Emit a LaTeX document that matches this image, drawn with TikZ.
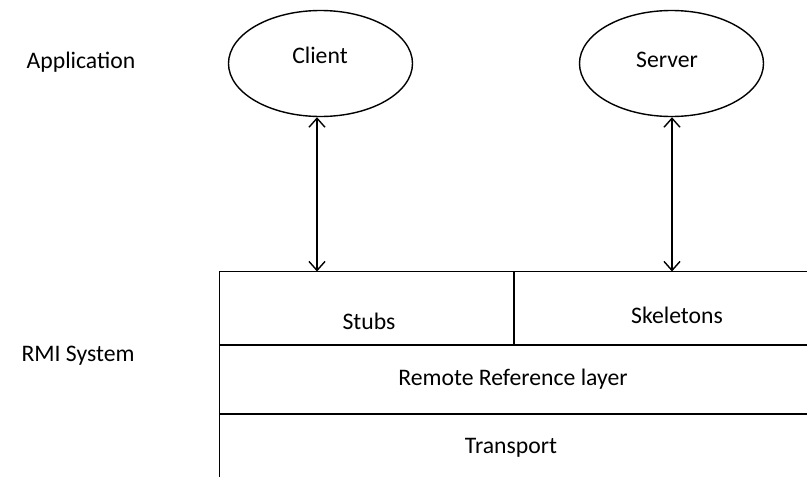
\documentclass[tikz,border=0pt]{standalone}
\usepackage{fontspec}
\setmainfont{Carlito}
\usetikzlibrary{shapes.geometric,arrows.meta}
\begin{document}
\begin{tikzpicture}[x=1pt,y=-1pt,
  lbl/.style={font=\fontsize{23.7}{27}\selectfont, inner sep=0pt},
  oval/.style={ellipse, draw, line width=1.4pt, minimum width=184pt, minimum height=106pt, inner sep=0pt},
  grid/.style={line width=1.7pt},
  link/.style={line width=1.4pt, {Straight Barb[length=9pt,width=16pt,line width=1.4pt]}-{Straight Barb[length=9pt,width=16pt,line width=1.4pt]}}]
\useasboundingbox (0,0) rectangle (807,477);
\node[lbl] (app) at (81,62) {Application};
\node[lbl] (rmi) at (78,356) {RMI System};
\node[oval] (client) at (320.5,63.5) {};
\node[lbl] (clientt) at (320,55) {Client};
\node[oval] (server) at (671.5,63.5) {};
\node[lbl] (servert) at (667,60) {Server};
% table
\draw[grid] (219.5,477) -- (219.5,271.5) -- (807,271.5);
\draw[grid] (219.5,345) -- (807,345);
\draw[grid] (219.5,414) -- (807,414);
\draw[grid] (514,271.5) -- (514,345);
\coordinate (ctop) at (317,271.5);
\coordinate (stop) at (672,271.5);
\node[lbl] (stubs) at (369,321) {Stubs};
\node[lbl] (skel) at (677,315) {Skeletons};
\node[lbl] (rrl) at (513,379) {Remote Reference layer};
\node[lbl] (trans) at (511,448) {Transport};
\draw[link] (client.south -| ctop) -- (ctop);
\draw[link] (server.south -| stop) -- (stop);
\end{tikzpicture}
\end{document}
